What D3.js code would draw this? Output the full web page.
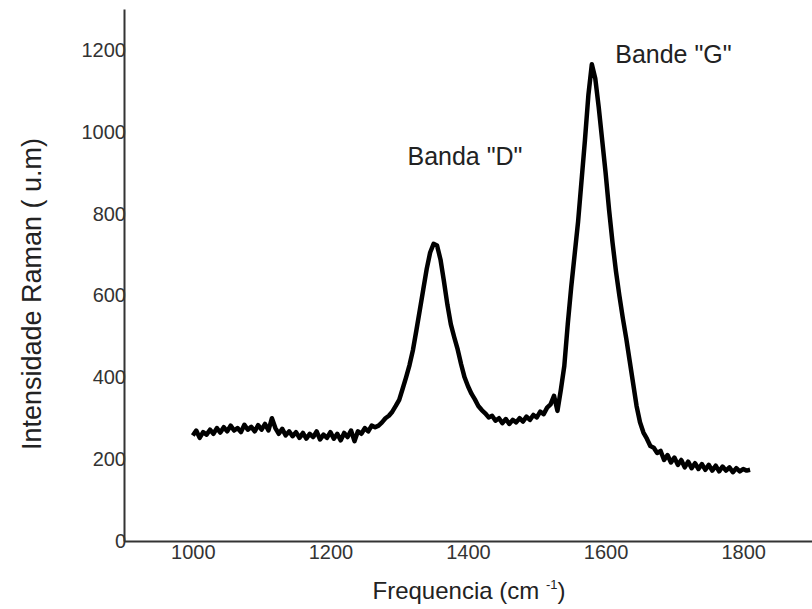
<!DOCTYPE html>
<html>
<head>
<meta charset="utf-8">
<script src="https://cdn.jsdelivr.net/npm/d3@7"></script>
<style>
  body { margin: 0; background: #fff; }
  #chart text { font-family: "Liberation Sans", Arial, sans-serif; }
</style>
</head>
<body>
<div id="chart"></div>
<script>
// Raman spectrum (cm-1, arbitrary units)
const freq = [
  1000, 1005, 1010, 1015, 1020, 1025, 1030, 1035, 1040, 1045, 1050, 1055, 1060, 1065, 1070, 1075, 1080, 1085, 1090, 1095,
  1100, 1105, 1110, 1115, 1120, 1125, 1130, 1135, 1140, 1145, 1150, 1155, 1160, 1165, 1170, 1175, 1180, 1185, 1190, 1195,
  1200, 1205, 1210, 1215, 1220, 1225, 1230, 1235, 1240, 1245, 1250, 1255, 1260, 1265, 1270, 1275, 1280, 1285, 1290, 1295,
  1300, 1305, 1310, 1315, 1320, 1325, 1330, 1335, 1340, 1345, 1350, 1355, 1360, 1365, 1370, 1375, 1380, 1385, 1390, 1395,
  1400, 1405, 1410, 1415, 1420, 1425, 1430, 1435, 1440, 1445, 1450, 1455, 1460, 1465, 1470, 1475, 1480, 1485, 1490, 1495,
  1500, 1505, 1510, 1515, 1520, 1525, 1530, 1535, 1540, 1545, 1550, 1555, 1560, 1565, 1570, 1575, 1580, 1585, 1590, 1595,
  1600, 1605, 1610, 1615, 1620, 1625, 1630, 1635, 1640, 1645, 1650, 1655, 1660, 1665, 1670, 1675, 1680, 1685, 1690, 1695,
  1700, 1705, 1710, 1715, 1720, 1725, 1730, 1735, 1740, 1745, 1750, 1755, 1760, 1765, 1770, 1775, 1780, 1785, 1790, 1795,
  1800, 1805, 1810
];
const intensity = [
  258, 270, 252, 266, 260, 272, 262, 276, 265, 278, 268, 282, 270, 276, 266, 284, 272, 279, 268, 283,
  272, 286, 270, 300, 276, 262, 274, 258, 268, 256, 266, 252, 264, 250, 262, 254, 268, 248, 260, 252,
  266, 250, 262, 246, 264, 254, 270, 244, 268, 262, 276, 268, 282, 278, 282, 290, 300, 306, 316, 330,
  345, 372, 400, 430, 467, 515, 565, 615, 665, 705, 726, 722, 688, 635, 578, 530, 498, 468, 432, 400,
  378, 360, 346, 330, 320, 312, 302, 306, 294, 300, 288, 298, 286, 296, 290, 300, 292, 304, 296, 308,
  302, 316, 310, 326, 334, 355, 318, 370, 428, 530, 620, 700, 780, 880, 980, 1090, 1165, 1130, 1060, 980,
  900, 810, 730, 660, 600, 545, 495, 440, 385, 330, 290, 265, 250, 232, 228, 215, 220, 198, 210, 192,
  204, 186, 198, 180, 194, 178, 190, 176, 188, 174, 186, 172, 184, 170, 182, 172, 180, 168, 178, 170,
  176, 172, 174
];

const xTicks = [1000, 1200, 1400, 1600, 1800];
const yTicks = [0, 200, 400, 600, 800, 1000, 1200];
const bandLabels = ['Banda "D"', 'Bande "G"'];
const bandAt = [[1312, 919], [1614, 1169]]; // label anchor (cm-1, intensity)

const width = 812, height = 609;
const margin = { left: 124, right: 0, top: 9, bottom: 68 };

const svg = d3.select("#chart").append("svg")
  .attr("width", width)
  .attr("height", height);

const x = d3.scaleLinear().domain([900, 1900]).range([margin.left, width - margin.right]);
const y = d3.scaleLinear().domain([0, 1300]).range([height - margin.bottom, margin.top]);

// axes: no tick marks, labels touching the axis line
const xAxis = svg.append("g")
  .attr("transform", `translate(0,${y(0)})`)
  .call(d3.axisBottom(x).tickValues(xTicks).tickSize(0).tickPadding(4).tickFormat(d3.format("d")));

const yAxis = svg.append("g")
  .attr("transform", `translate(${x(900)},0)`)
  .call(d3.axisLeft(y).tickValues(yTicks).tickSize(0).tickPadding(-2).tickFormat(d3.format("d")));

[xAxis, yAxis].forEach(g => {
  g.select(".domain").attr("stroke", "#333").attr("stroke-width", 2);
  g.selectAll("text")
    .attr("fill", "#333")
    .style("font-size", "20px");
});

// spectrum line
const line = d3.line()
  .x((d, i) => x(freq[i]))
  .y(d => y(d));

svg.append("path")
  .datum(intensity)
  .attr("fill", "none")
  .attr("stroke", "#000")
  .attr("stroke-width", 4.5)
  .attr("stroke-linejoin", "round")
  .attr("d", line);

// band annotations
svg.selectAll(".band")
  .data(bandLabels)
  .enter().append("text")
  .attr("class", "band")
  .attr("x", (d, i) => x(bandAt[i][0]))
  .attr("y", (d, i) => y(bandAt[i][1]))
  .attr("fill", "#222")
  .style("font-size", "25px")
  .text(d => d);

// x title with superscript
const xt = svg.append("text")
  .attr("x", 469)
  .attr("y", 599)
  .attr("text-anchor", "middle")
  .attr("fill", "#222")
  .style("font-size", "24px");
xt.append("tspan").text("Frequencia (cm ");
xt.append("tspan").attr("dy", -10).style("font-size", "13px").text("-1");
xt.append("tspan").attr("dy", 10).text(")");

// y title
svg.append("text")
  .attr("transform", "translate(41,294) rotate(-90)")
  .attr("text-anchor", "middle")
  .attr("fill", "#222")
  .style("font-size", "27px")
  .text("Intensidade Raman ( u.m)");
</script>
</body>
</html>
